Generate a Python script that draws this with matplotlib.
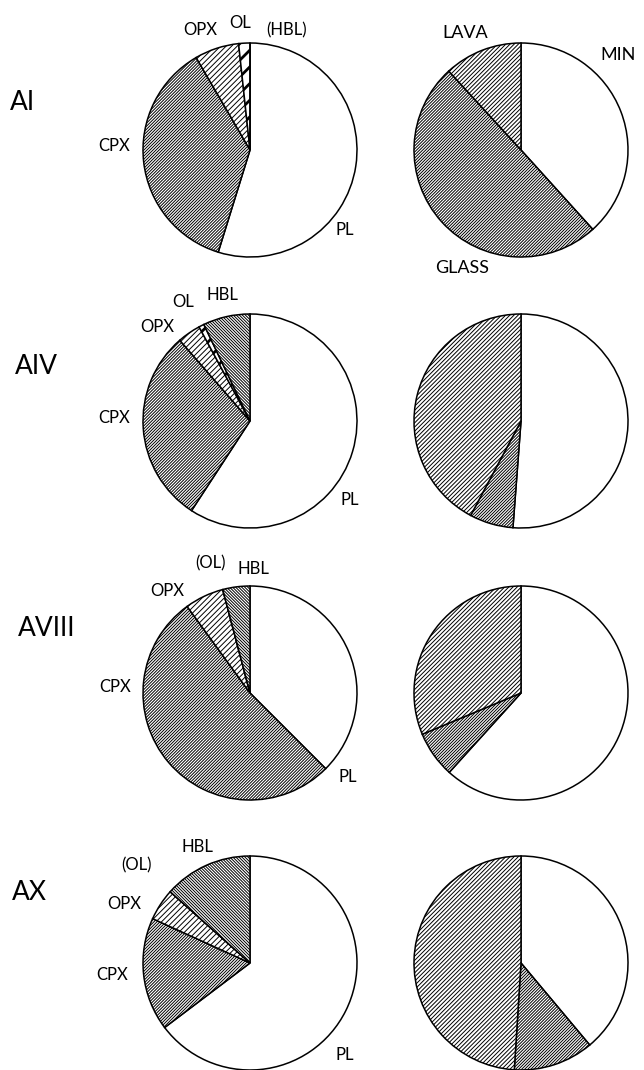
import numpy as np
import matplotlib.pyplot as plt

plt.rcParams['font.family'] = ['Lato', 'DejaVu Sans']
plt.rcParams['hatch.linewidth'] = 0.7

# modal composition (vol %), clockwise from 12 o'clock
samples = ['AI', 'AIV', 'AVIII', 'AX']
pl = [54.8, 59.2, 37.5, 64.7]
cpx = [36.8, 29.4, 52.5, 17.1]
opx = [6.7, 3.5, 5.9, 4.8]
ol = [1.7, 0.8, 0.0, 0.0]
hbl = [0.0, 7.1, 4.1, 13.4]
mineral_labels = [
    ['PL', 'CPX', 'OPX', 'OL', '(HBL)'],
    ['PL', 'CPX', 'OPX', 'OL', 'HBL'],
    ['PL', 'CPX', 'OPX', '(OL)', 'HBL'],
    ['PL', 'CPX', 'OPX', '(OL)', 'HBL'],
]

# minerals / glass / lava fragments
mn = [38.3, 51.2, 61.7, 38.9]
glass = [49.9, 6.6, 7.0, 12.1]
lava = [11.8, 42.2, 31.3, 49.0]
phase_labels = ['MIN', 'GLASS', 'LAVA']

W, H = 644, 1070
R = 107
cx_left, cx_right = 250, 521
cy_rows = [150, 421, 693, 963]   # pixel rows, top down

min_hatch = [None, '/' * 11, '/' * 6, '//', '\\' * 11]
phase_hatch = [None, '/' * 11, '/' * 8]

# label offsets from pie centre (pixels, y down)
min_off = [
    [(95, 80), (-136, -4), (-50, -120), (-10, -127), (37, -120)],
    [(100, 79), (-136, -3), (-93, -94), (-67, -119), (-28, -126)],
    [(98, 84), (-135, -6), (-83, -102), (-39, -130), (3, -124)],
    [(95, 92), (-138, 12), (-126, -59), (-113, -98), (-53, -116)],
]
row_lab_x = [10, 15, 18, 12]
row_lab_y = [102, 367, 629, 892]

fig = plt.figure(figsize=(W / 100, H / 100), dpi=100)
ax = fig.add_axes([0, 0, 1, 1])


def draw_pie(vals, hatches, centre, bold=None):
    wedges, _ = ax.pie(vals, radius=R, center=centre, startangle=90,
                       counterclock=False, normalize=True,
                       wedgeprops=dict(edgecolor='black', linewidth=1.1))
    for w, h in zip(wedges, hatches):
        w.set_facecolor('white')
        if h:
            w.set_hatch(h)
    if bold is not None and hasattr(wedges[bold], 'set_hatch_linewidth'):
        wedges[bold].set_hatch_linewidth(2.0)
    return wedges


for i, s in enumerate(samples):
    cy = H - cy_rows[i]
    vals = [pl[i], cpx[i], opx[i], ol[i], hbl[i]]
    draw_pie(vals, min_hatch, (cx_left, cy), bold=3)
    for lab, (dx, dy) in zip(mineral_labels[i], min_off[i]):
        ax.text(cx_left + dx, cy - dy, lab, ha='center', va='center', fontsize=12)
    ax.text(row_lab_x[i], H - row_lab_y[i], s, ha='left', va='center', fontsize=19)

    draw_pie([mn[i], glass[i], lava[i]], phase_hatch, (cx_right, cy))

# phase labels only on the top right pie
cy = H - cy_rows[0]
ax.text(cx_right + 79, cy + 95, phase_labels[0], ha='left', va='center', fontsize=13)
ax.text(cx_right - 59, cy - 118, phase_labels[1], ha='center', va='center', fontsize=13)
ax.text(cx_right - 56, cy + 117, phase_labels[2], ha='center', va='center', fontsize=13)

ax.set_xlim(0, W)
ax.set_ylim(0, H)
ax.set_aspect('equal')
ax.axis('off')

fig.savefig('out.png', dpi=100, facecolor='white')
